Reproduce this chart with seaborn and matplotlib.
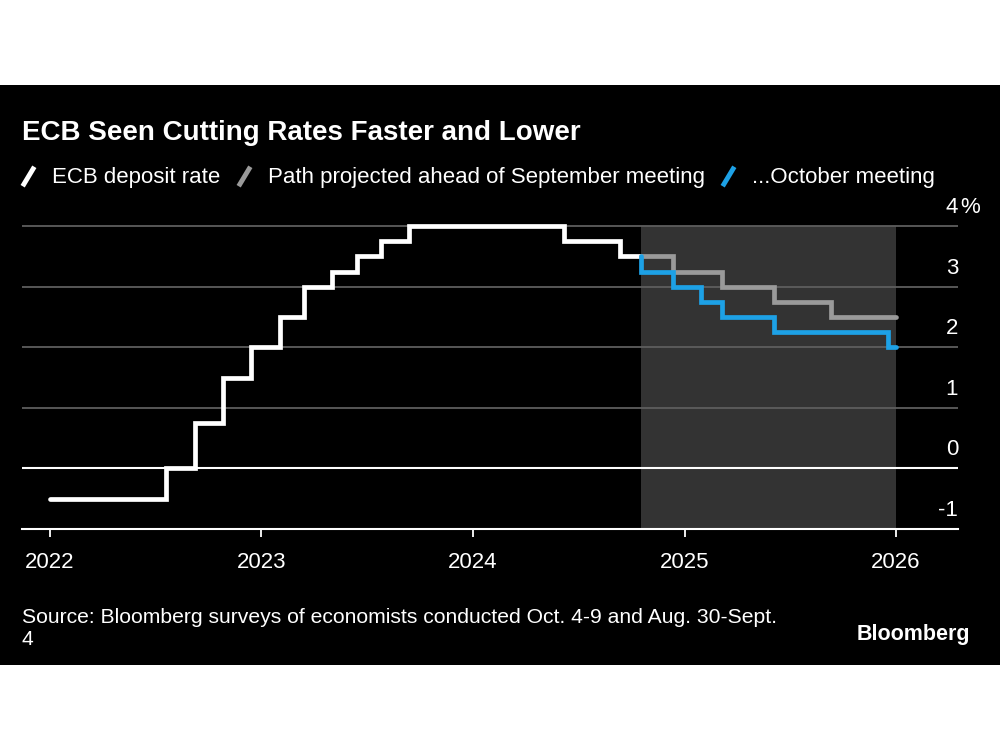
import numpy as np
import pandas as pd
import matplotlib
matplotlib.use("Agg")
import matplotlib.pyplot as plt
import matplotlib.dates as mdates
from matplotlib.patches import Rectangle
from matplotlib.lines import Line2D
from matplotlib.path import Path
from matplotlib.transforms import offset_copy
import seaborn as sns

# ---------------- data ----------------
series_names = ["ECB deposit rate", "Path projected ahead of September meeting", "...October meeting"]
series_colors = ["#ffffff", "#9a9a9a", "#1da1e6"]

actual_dates = ["2022-01-01", "2022-07-21", "2022-09-08", "2022-10-27", "2022-12-15",
                "2023-02-02", "2023-03-16", "2023-05-04", "2023-06-15", "2023-07-27",
                "2023-09-14", "2024-06-06", "2024-09-12", "2024-10-17"]
actual_rates = [-0.5, 0.0, 0.75, 1.5, 2.0, 2.5, 3.0, 3.25, 3.5, 3.75, 4.0, 3.75, 3.5, 3.5]

sept_dates = ["2024-10-17", "2024-12-12", "2025-03-06", "2025-06-05", "2025-09-11", "2026-01-01"]
sept_rates = [3.5, 3.25, 3.0, 2.75, 2.5, 2.5]

oct_dates = ["2024-10-17", "2024-10-17", "2024-12-12", "2025-01-30", "2025-03-06",
             "2025-06-05", "2025-12-18", "2026-01-01"]
oct_rates = [3.5, 3.25, 3.0, 2.75, 2.5, 2.25, 2.0, 2.0]

projection_span = ["2024-10-17", "2026-01-01"]
year_ticks = ["2022", "2023", "2024", "2025", "2026"]
y_ticks = [-1, 0, 1, 2, 3, 4]
y_tick_labels = ["-1", "0", "1", "2", "3", "4"]

title = "ECB Seen Cutting Rates Faster and Lower"
source = "Source: Bloomberg surveys of economists conducted Oct. 4-9 and Aug. 30-Sept.\n4"

# ---------------- frame ----------------
frames = []
for name, d, r in zip(series_names, [actual_dates, sept_dates, oct_dates],
                      [actual_rates, sept_rates, oct_rates]):
    frames.append(pd.DataFrame({"date": pd.to_datetime(d), "rate": r, "series": name}))
df = pd.concat(frames, ignore_index=True)

sns.set_theme(style="dark")
plt.rcParams["font.family"] = ["Liberation Sans", "DejaVu Sans"]

fig = plt.figure(figsize=(10, 7.5), dpi=100, facecolor="white")
fig.patches.append(Rectangle((0, (750 - 665) / 750), 1, (665 - 85) / 750,
                             transform=fig.transFigure, facecolor="black",
                             edgecolor="none", zorder=-10))

ax = fig.add_axes([0.022, (750 - 529) / 750, 0.936, (529 - 211) / 750])
ax.set_facecolor("none")

# shaded projection period
span = pd.to_datetime(projection_span)
ax.fill_between(span, -1, 4, color="#333333", zorder=0.2, linewidth=0)

palette = dict(zip(series_names, series_colors))
sns.lineplot(data=df, x="date", y="rate", hue="series", hue_order=series_names,
             palette=palette, estimator=None, sort=False, legend=False,
             linewidth=3.4, drawstyle="steps-post", ax=ax,
             solid_capstyle="round", solid_joinstyle="miter", zorder=3)

# axes limits
ax.set_xlim(pd.Timestamp("2021-11-14"), pd.Timestamp("2026-04-18"))
ax.set_ylim(-1, 4.25)

# grid lines
ax.set_yticks(y_ticks)
ax.yaxis.grid(True, color="#5e5e5e", linewidth=1.3)
ax.set_axisbelow(True)
ax.tick_params(axis="y", left=False, right=False, labelleft=False, labelright=False)
ax.axhline(0, color="white", linewidth=1.5, zorder=1)

for s in ["top", "right", "left"]:
    ax.spines[s].set_visible(False)
ax.spines["bottom"].set_color("white")
ax.spines["bottom"].set_linewidth(1.5)

# x ticks
ax.set_xticks(pd.to_datetime(year_ticks))
ax.xaxis.set_major_formatter(mdates.DateFormatter("%Y"))
ax.tick_params(axis="x", bottom=True, colors="white", labelcolor="white", length=6,
               width=1.3, direction="out", pad=10.5, labelsize=16)
ax.set_xlabel("")
ax.set_ylabel("")

# y labels (right, above gridlines)
trans = offset_copy(ax.get_yaxis_transform(), fig=fig, x=0, y=13, units="dots")
for v, lab in zip(y_ticks, y_tick_labels):
    ax.text(1.0, v, lab, transform=trans, ha="right", va="baseline",
            color="white", fontsize=16)
trans_pct = offset_copy(ax.get_yaxis_transform(), fig=fig, x=2, y=13, units="dots")
ax.text(1.0, y_ticks[-1], "%", transform=trans_pct, ha="left", va="baseline",
        color="white", fontsize=16)

# title
fig.text(0.022, (750 - 140) / 750, title, color="white", fontsize=20,
         fontweight="bold", ha="left", va="baseline")

# legend
slash = Path([(-0.6, -1.0), (0.6, 1.0)], [Path.MOVETO, Path.LINETO])
handles = [Line2D([], [], linestyle="None", marker=slash, markersize=14,
                  markeredgewidth=3.5, markeredgecolor=c, markerfacecolor="none")
           for c in series_colors]
leg = fig.legend(handles, series_names, loc="center left",
                 bbox_to_anchor=(0.020, (750 - 178) / 750), ncol=3, frameon=False,
                 fontsize=16, handlelength=0.7, handletextpad=0.74,
                 columnspacing=0.7, borderpad=0, borderaxespad=0)
for t in leg.get_texts():
    t.set_color("white")

# source and logo (baseline of the last line)
fig.text(0.022, (750 - 645) / 750, source, color="white", fontsize=15.2,
         ha="left", va="baseline", linespacing=1.2)
fig.text(0.970, (750 - 640) / 750, "Bloomberg", color="white", fontsize=15.5,
         fontweight="bold", ha="right", va="baseline")

fig.savefig("out.png", dpi=100, facecolor="white")
